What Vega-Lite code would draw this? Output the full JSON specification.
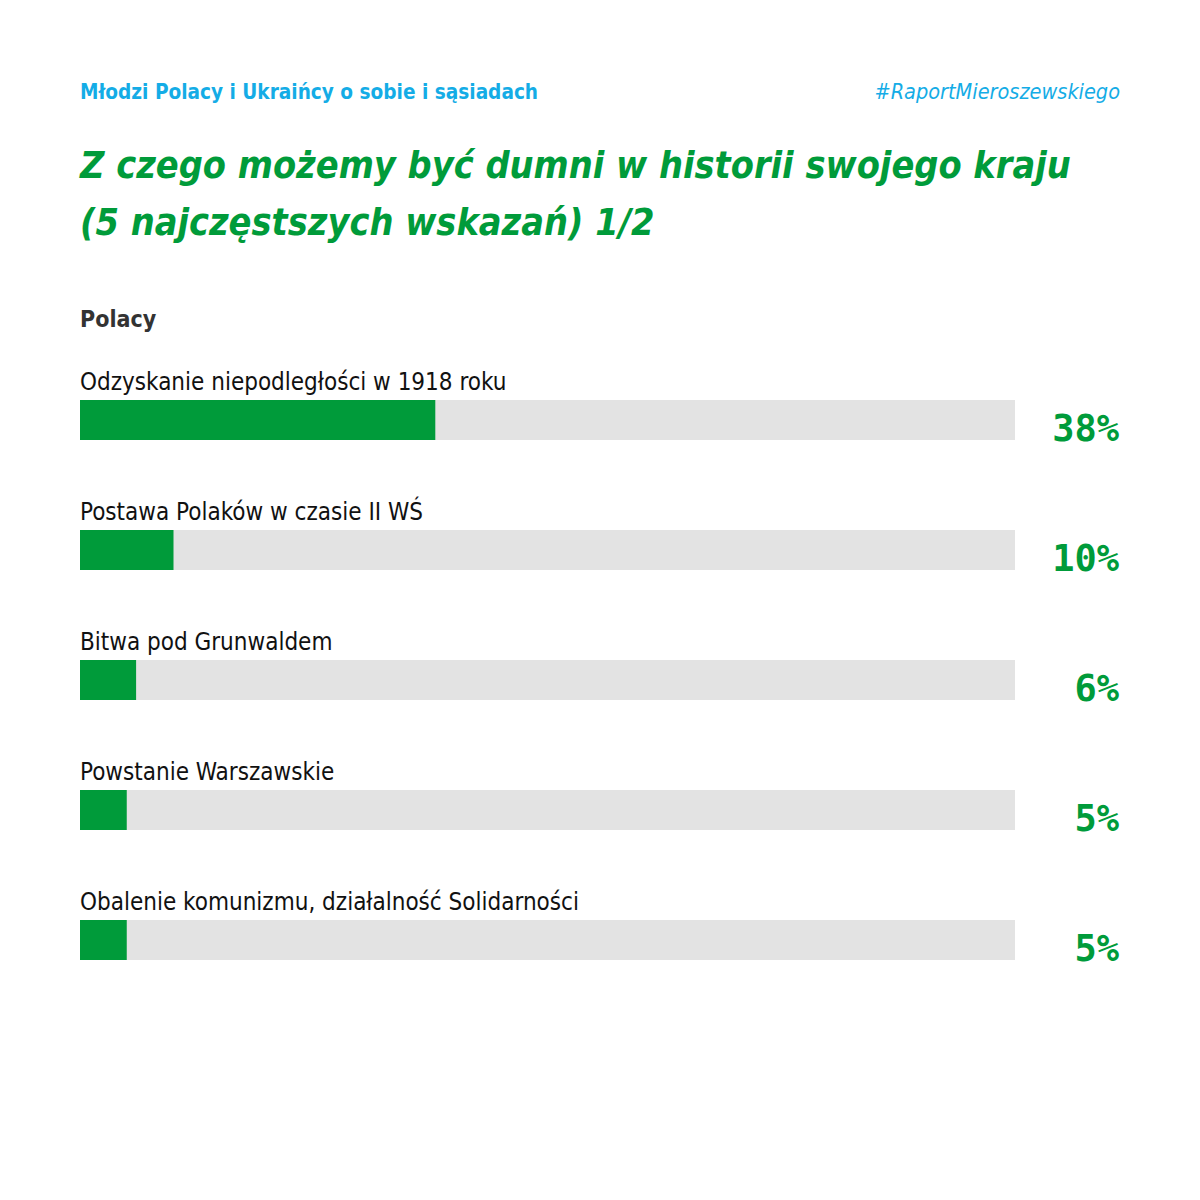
{
  "$schema": "https://vega.github.io/schema/vega-lite/v6.json",
  "description": "Z czego możemy być dumni w historii swojego kraju - Polacy",
  "padding": {"left": 80, "top": 78, "right": 0, "bottom": 20},
  "background": "white",
  "spacing": 39,
  "config": {
    "view": {"stroke": null},
    "font": "Liberation Sans Narrow, DejaVu Sans Condensed, sans-serif"
  },
  "vconcat": [
    {
      "width": 1040,
      "height": 30,
      "data": {"values": [{"series": "Młodzi Polacy i Ukraińcy o sobie i sąsiadach", "tag": "#RaportMieroszewskiego"}]},
      "layer": [
        {
          "mark": {"type": "text", "align": "left", "baseline": "middle", "fontSize": 20.6, "fontWeight": "bold", "color": "#14ace6"},
          "encoding": {"text": {"field": "series"}, "x": {"value": 0}}
        },
        {
          "mark": {"type": "text", "align": "right", "baseline": "middle", "fontSize": 21.5, "fontStyle": "italic", "color": "#14ace6"},
          "encoding": {"text": {"field": "tag"}, "x": {"value": "width"}}
        }
      ]
    },
    {
      "width": 935,
      "height": {"step": 130},
      "title": {
        "text": ["Z czego możemy być dumni w historii swojego kraju", "(5 najczęstszych wskazań) 1/2"],
        "subtitle": "Polacy",
        "anchor": "start",
        "fontSize": 37.5,
        "fontStyle": "italic",
        "fontWeight": "bold",
        "color": "#009b3a",
        "lineHeight": 57,
        "subtitleFontSize": 23,
        "subtitleFontWeight": "bold",
        "subtitleColor": "#333333",
        "subtitlePadding": 67,
        "offset": 8
      },
      "data": {
        "values": [
          {"item": "Odzyskanie niepodległości w 1918 roku", "share": 0.38},
          {"item": "Postawa Polaków w czasie II WŚ", "share": 0.10},
          {"item": "Bitwa pod Grunwaldem", "share": 0.06},
          {"item": "Powstanie Warszawskie", "share": 0.05},
          {"item": "Obalenie komunizmu, działalność Solidarności", "share": 0.05}
        ]
      },
      "encoding": {
        "y": {"field": "item", "type": "nominal", "sort": null, "axis": null, "scale": {"paddingInner": 0, "paddingOuter": 0}}
      },
      "layer": [
        {
          "mark": {"type": "bar", "color": "#e3e3e3", "height": 40, "yOffset": 15},
          "encoding": {"x": {"datum": 1, "type": "quantitative", "scale": {"domain": [0, 1]}, "axis": null}}
        },
        {
          "mark": {"type": "bar", "color": "#009b3a", "height": 40, "yOffset": 15},
          "encoding": {"x": {"field": "share", "type": "quantitative"}}
        },
        {
          "mark": {"type": "text", "align": "left", "baseline": "alphabetic", "dy": -15, "fontSize": 24, "color": "#111111"},
          "encoding": {"text": {"field": "item"}, "x": {"datum": 0, "type": "quantitative"}}
        },
        {
          "mark": {"type": "text", "align": "right", "baseline": "alphabetic", "dy": 36, "dx": 104, "font": "DejaVu Sans Mono", "fontSize": 37, "fontWeight": "bold", "color": "#009b3a"},
          "encoding": {"text": {"field": "share", "format": ".0%"}, "x": {"datum": 1, "type": "quantitative"}}
        }
      ]
    }
  ]
}
